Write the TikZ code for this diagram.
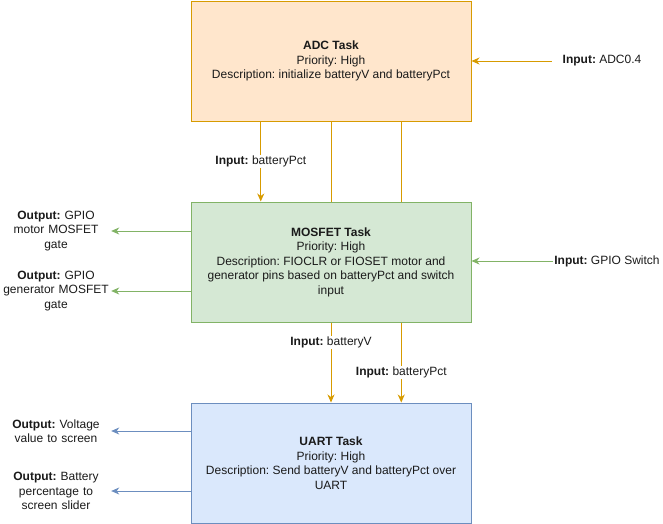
\documentclass[tikz,border=0pt]{standalone}
\usepackage{fontspec}
\setmainfont{Liberation Sans}
\usepackage{tikz}
\usetikzlibrary{arrows.meta, calc, positioning}
\frenchspacing
\definecolor{AdcFill}{HTML}{FFE6CC}
\definecolor{AdcLine}{HTML}{D79B00}
\definecolor{MosFill}{HTML}{D5E8D4}
\definecolor{MosLine}{HTML}{82B366}
\definecolor{UartFill}{HTML}{DAE8FC}
\definecolor{UartLine}{HTML}{6C8EBF}
\definecolor{TextBlack}{HTML}{1A1A1A}
\tikzset{%
  task_block/.style={%
    rectangle,%
    minimum width=280pt,%
    minimum height=120pt,%
    inner sep=0pt,%
    line width=1pt,%
    font={\fontsize{12}{14.5}\selectfont},%
    text=TextBlack,%
    align=center%
  },
  annotate/.style={%
    font={\fontsize{12}{14.5}\selectfont},%
    text=TextBlack,%
    align=center,%
    inner sep=1pt,%
  },
  label_bg/.style={%
    annotate,%
    fill=white,%
  },
  signal/.style={%
    line width=1pt,%
    line join=round,%
  },
  arrow/.style={-{Stealth[length=8pt, width=7pt, inset=2.5pt]}},
}

\begin{document}
\begin{tikzpicture}[x=1pt, y=1pt]
    \useasboundingbox (0,0) rectangle (663,-523);

    \node [task_block, draw=AdcLine, fill=AdcFill] (ADC) at (331,-61)
      {\textbf{ADC Task}\\Priority: High\\Description: initialize batteryV and batteryPct};
    \node [task_block, draw=MosLine, fill=MosFill, below=80pt of ADC] (MOSFET)
      {\textbf{MOSFET Task}\\Priority: High\\Description: FIOCLR or FIOSET motor and\\generator pins based on batteryPct and switch\\input};
    \node [task_block, draw=UartLine, fill=UartFill, below=80pt of MOSFET] (UART)
      {\textbf{UART Task}\\Priority: High\\Description: Send batteryV and batteryPct over\\UART};

    \node [annotate, minimum width=100pt] (InADC) at (602,-61)
      {\textbf{Input:} ADC0.4};
    \node [annotate] (InSwitch) at (607,-261)
      {\textbf{Input:} GPIO Switch};
    \node [annotate, text width=108pt] (OutMotor) at (56,-231)
      {\textbf{Output:} GPIO\\motor MOSFET\\gate};
    \node [annotate, text width=108pt] (OutGenerator) at (56,-291)
      {\textbf{Output:} GPIO\\generator MOSFET\\gate};
    \node [annotate, text width=108pt] (OutVoltage) at (56,-431)
      {\textbf{Output:} Voltage\\value to screen};
    \node [annotate, text width=108pt] (OutBattery) at (56,-491)
      {\textbf{Output:} Battery\\percentage to\\screen slider};

    \draw [arrow, signal, AdcLine]
      (InADC.west) -- (InADC.west -| ADC.east);
    \draw [arrow, signal, MosLine]
      (InSwitch.west) -- (InSwitch.west -| MOSFET.east);
    \draw [arrow, signal, MosLine]
      (OutMotor.east -| MOSFET.west) -- (OutMotor.east);
    \draw [arrow, signal, MosLine]
      (OutGenerator.east -| MOSFET.west) -- (OutGenerator.east);
    \draw [arrow, signal, UartLine]
      (OutVoltage.east -| UART.west) -- (OutVoltage.east);
    \draw [arrow, signal, UartLine]
      (OutBattery.east -| UART.west) -- (OutBattery.east);

    \draw [arrow, signal, AdcLine]
      ($(ADC.south west)!0.25!(ADC.south east)$) coordinate (PctLeft)
      --
      (PctLeft |- MOSFET.north)
      node [label_bg, midway] {\textbf{Input:} batteryPct};
    \draw [signal, AdcLine]
      (ADC.south) -- (MOSFET.north);
    \draw [arrow, signal, AdcLine]
      (MOSFET.south) -- (UART.north)
      node [label_bg, pos=0.25] {\textbf{Input:} batteryV};
    \draw [signal, AdcLine]
      ($(ADC.south west)!0.75!(ADC.south east)$) coordinate (PctRight)
      --
      (PctRight |- MOSFET.north);
    \draw [arrow, signal, AdcLine]
      (PctRight |- MOSFET.south) -- (PctRight |- UART.north)
      node [label_bg, pos=0.625] {\textbf{Input:} batteryPct};
  \end{tikzpicture}
\end{document}
